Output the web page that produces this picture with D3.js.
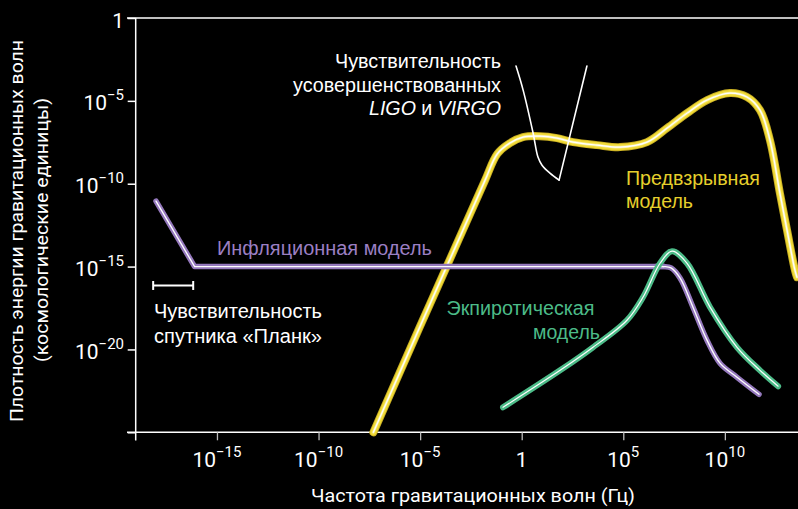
<!DOCTYPE html>
<html>
<head>
<meta charset="utf-8">
<script src="https://cdn.jsdelivr.net/npm/d3@7/dist/d3.min.js"></script>
<style>
  html, body { margin: 0; padding: 0; background: #000; }
  svg { display: block; }
</style>
</head>
<body>
<svg id="chart" width="798" height="509"></svg>
<script>
// ---- Data (log10 of frequency in Hz, log10 of energy density) ----
const xTickExps = [-15, -10, -5, 0, 5, 10];
const yTickExps = [0, -5, -10, -15, -20];
const yTickAll = [0, -5, -10, -15, -20, -25];

// inflation: straight part, then smooth bend
const inflationStraightLogF = [-18.0, -16.1, 7.0];
const inflationStraightLogO = [-11.05, -15.0, -15.0];
const inflationBendLogF = [6.6, 7.0, 7.35, 7.8, 8.43, 9.12, 9.76, 10.6, 11.68];
const inflationBendLogO = [-15.0, -15.0, -15.08, -15.7, -17.45, -19.44, -20.83, -21.68, -22.71];

const ekpyroticLogF = [-0.92, 1.89, 3.51, 5.18, 5.97, 6.81, 7.40, 8.14, 9.27, 10.60, 11.73, 12.62];
const ekpyroticLogO = [-23.49, -21.26, -19.87, -18.24, -16.85, -14.8, -14.07, -14.8, -17.45, -19.87, -21.26, -22.22];

const preBigBangLogF = [-7.3, -5.0, -2.89, -1.81, -1.2, -0.58, 0.06, 0.90, 1.74, 2.53, 3.71, 4.84, 6.17, 7.16, 8.14, 9.13, 10.25, 11.09, 11.73, 12.22, 12.71, 13.06, 13.45, 13.55];
const preBigBangLogO = [-25.0, -18.6, -12.79, -9.81, -8.2, -7.55, -7.19, -7.13, -7.25, -7.49, -7.67, -7.79, -7.49, -6.64, -5.74, -4.95, -4.53, -4.77, -5.56, -7.37, -10.57, -12.80, -15.22, -15.64];

// LIGO sensitivity: curved left branch, straight right branch
const ligoLeftLogF = [-0.28, 0.07, 0.56, 0.80, 1.0, 1.39, 1.84];
const ligoLeftLogO = [-2.90, -4.35, -6.94, -8.39, -8.88, -9.36, -9.78];
const ligoRightLogF = [1.84, 3.21];
const ligoRightLogO = [-9.78, -2.90];

const planckLogF = [-18.14, -16.17];
const planckLogO = -16.14;

// ---- Scales ----
const svg = d3.select("#chart");
const x = d3.scaleLog().domain([1e-19, Math.pow(10, 13.6)]).range([135.7, 798]);
const y = d3.scaleLog().domain([1e-25, 1]).range([432.3, 18]);
const P = e => Math.pow(10, e);

const axisFont = "Roboto, 'Liberation Sans', sans-serif";
const textFont = "'Liberation Sans', Arial, sans-serif";

// ---- Axes ----
const axG = svg.append("g").attr("stroke", "#fff").attr("stroke-width", 1.5).attr("fill", "none");
axG.append("line").attr("x1", 127).attr("x2", 798).attr("y1", y(1e-25)).attr("y2", y(1e-25));
axG.append("line").attr("x1", 127).attr("x2", 798).attr("y1", y(1)).attr("y2", y(1));
axG.append("line").attr("x1", x(1e-19)).attr("x2", x(1e-19)).attr("y1", y(1)).attr("y2", 440.5);

const xAxis = d3.axisBottom(x).tickValues(xTickExps.map(P)).tickSize(8).tickFormat("");
const gx = svg.append("g").attr("transform", `translate(0,${y(1e-25)})`).call(xAxis);
gx.select(".domain").remove();
gx.selectAll(".tick line").attr("stroke", "#bbb").attr("stroke-width", 1.3);

const yAxis = d3.axisLeft(y).tickValues(yTickAll.map(P)).tickSize(8).tickFormat("");
const gy = svg.append("g").attr("transform", `translate(${x(1e-19)},0)`).call(yAxis);
gy.select(".domain").remove();
gy.selectAll(".tick line").attr("stroke", "#fff").attr("stroke-width", 1.5);

function expLabel(sel, e) {
  if (e === 0) { sel.append("tspan").text("1"); return; }
  sel.append("tspan").text("10");
  sel.append("tspan").attr("dy", -10).attr("font-size", 15).text((e < 0 ? "\u2212" : "") + Math.abs(e));
}

xTickExps.forEach(e => {
  const t = svg.append("text").attr("x", x(P(e))).attr("y", 467)
    .attr("text-anchor", "middle").attr("fill", "#fff")
    .attr("font-family", axisFont).attr("font-size", 21);
  expLabel(t, e);
});
yTickExps.forEach(e => {
  const t = svg.append("text").attr("x", 124).attr("y", y(P(e)) + 9.5)
    .attr("text-anchor", "end").attr("fill", "#fff")
    .attr("font-family", axisFont).attr("font-size", 21);
  expLabel(t, e);
});

// axis titles
svg.append("text").attr("x", 473).attr("y", 502).attr("text-anchor", "middle")
  .attr("fill", "#fff").attr("font-family", axisFont).attr("font-size", 18)
  .attr("textLength", 324).attr("lengthAdjust", "spacingAndGlyphs")
  .text("Частота гравитационных волн (Гц)");
svg.append("text").attr("transform", "translate(23,231) rotate(-90)").attr("text-anchor", "middle")
  .attr("fill", "#fff").attr("font-family", axisFont).attr("font-size", 18)
  .attr("textLength", 382).attr("lengthAdjust", "spacingAndGlyphs")
  .text("Плотность энергии гравитационных волн");
svg.append("text").attr("transform", "translate(48,230) rotate(-90)").attr("text-anchor", "middle")
  .attr("fill", "#fff").attr("font-family", axisFont).attr("font-size", 18)
  .attr("textLength", 264).attr("lengthAdjust", "spacingAndGlyphs")
  .text("(космологические единицы)");

// ---- Curves ----
const mk = (fs, os) => fs.map((f, i) => [P(f), P(os[i])]);
const lineSmooth = d3.line().x(d => x(d[0])).y(d => y(d[1])).curve(d3.curveCatmullRom.alpha(0.5));
const lineStraight = d3.line().x(d => x(d[0])).y(d => y(d[1])).curve(d3.curveLinear);

function drawCurves(parts, layers) {
  layers.forEach(l => {
    parts.forEach(p => {
      svg.append("path").attr("d", p.gen(p.data)).attr("fill", "none")
        .attr("stroke", l.c).attr("stroke-width", l.w)
        .attr("stroke-linecap", "round").attr("stroke-linejoin", "round");
    });
  });
}

// Pre-Big Bang (yellow)
drawCurves([{data: mk(preBigBangLogF, preBigBangLogO), gen: lineSmooth}],
  [{c: "#c8ae22", w: 8}, {c: "#f0da38", w: 6.2}, {c: "#f8ee96", w: 2.6}, {c: "#ffffff", w: 1.2}]);

// Inflation (purple)
drawCurves([
  {data: mk(inflationStraightLogF, inflationStraightLogO), gen: lineStraight},
  {data: mk(inflationBendLogF, inflationBendLogO), gen: lineSmooth}
], [{c: "#9579bd", w: 5.5}, {c: "#ffffff", w: 1.3}]);

// Ekpyrotic (green)
drawCurves([{data: mk(ekpyroticLogF, ekpyroticLogO), gen: lineSmooth}],
  [{c: "#4cbb88", w: 6}, {c: "#ffffff", w: 1.2}]);

// LIGO sensitivity (thin white)
[{data: mk(ligoLeftLogF, ligoLeftLogO), gen: lineSmooth},
 {data: mk(ligoRightLogF, ligoRightLogO), gen: lineStraight}].forEach(p => {
  svg.append("path").attr("d", p.gen(p.data)).attr("fill", "none")
    .attr("stroke", "#fff").attr("stroke-width", 1.6).attr("stroke-linecap", "round");
});

// Planck sensitivity bar
const pg = svg.append("g").attr("stroke", "#fff").attr("stroke-width", 2);
const py = y(P(planckLogO));
pg.append("line").attr("x1", x(P(planckLogF[0]))).attr("x2", x(P(planckLogF[1]))).attr("y1", py).attr("y2", py);
planckLogF.forEach(f => pg.append("line").attr("x1", x(P(f))).attr("x2", x(P(f))).attr("y1", py - 4.5).attr("y2", py + 4.5));

// ---- Annotations ----
function label(lines, anchor, color) {
  lines.forEach(l => {
    const t = svg.append("text").attr("x", l.x).attr("y", l.y)
      .attr("text-anchor", anchor).attr("fill", color)
      .attr("font-family", textFont).attr("font-size", 19.5);
    if (l.len) t.attr("textLength", l.len).attr("lengthAdjust", "spacingAndGlyphs");
    l.parts.forEach(p => t.append("tspan").attr("font-style", p.i ? "italic" : "normal").text(p.t));
  });
}
label([
  {x: 501, y: 68, len: 166, parts: [{t: "Чувствительность"}]},
  {x: 501, y: 91.5, len: 208, parts: [{t: "усовершенствованных"}]},
  {x: 501, y: 115, len: 132, parts: [{t: "LIGO", i: true}, {t: " и "}, {t: "VIRGO", i: true}]}
], "end", "#fff");

label([
  {x: 154, y: 318, len: 168, parts: [{t: "Чувствительность"}]},
  {x: 154, y: 343, len: 168, parts: [{t: "спутника «Планк»"}]}
], "start", "#fff");

label([{x: 217, y: 255, len: 215, parts: [{t: "Инфляционная модель"}]}], "start", "#9b7fc3");

label([
  {x: 626, y: 185, len: 134, parts: [{t: "Предвзрывная"}]},
  {x: 626, y: 208, len: 67, parts: [{t: "модель"}]}
], "start", "#e6cf2c");

label([
  {x: 594.5, y: 315, len: 148, parts: [{t: "Экпиротическая"}]},
  {x: 600, y: 338.5, len: 67, parts: [{t: "модель"}]}
], "end", "#4cbb88");
</script>
</body>
</html>
